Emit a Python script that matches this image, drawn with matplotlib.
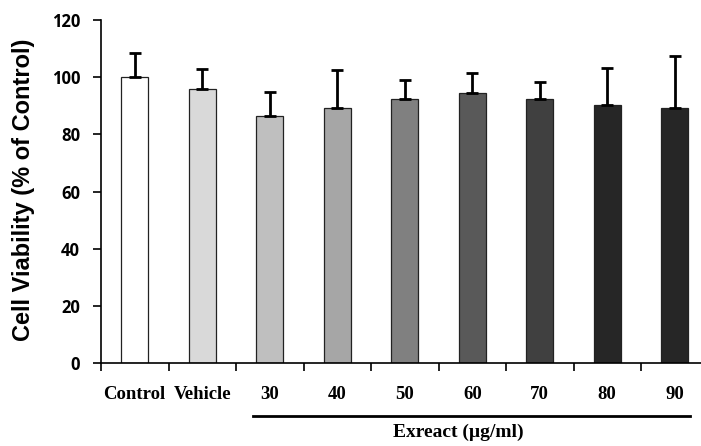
import matplotlib.pyplot as plt

categories = ["Control", "Vehicle", "30", "40", "50", "60", "70", "80", "90"]
viability = [100, 96, 86.4, 89.4, 92.5, 94.5, 92.5, 90.4, 89.4]
errors = [8.5, 7.0, 8.4, 13.0, 6.7, 7.0, 5.8, 12.8, 17.9]
colors = ["#ffffff", "#d9d9d9", "#bfbfbf", "#a6a6a6", "#808080",
          "#595959", "#404040", "#262626", "#262626"]

fig = plt.figure(figsize=(7.01, 4.46), dpi=100)
ax = fig.add_axes([101 / 701, 1 - 363.3 / 446, 600 / 701, 343.3 / 446])

x = range(len(categories))
ax.bar(x, viability, width=0.4, color=colors, edgecolor="#222222", linewidth=0.9, zorder=2)
ax.errorbar(x, viability, yerr=[[0] * len(errors), errors], fmt="none",
            ecolor="black", elinewidth=2, capsize=4, capthick=2, zorder=3)

ax.set_ylim(0, 120)
ax.set_xlim(-0.5, -0.5 + 600 / 67.5)
ax.set_yticks(range(0, 121, 20))
ax.tick_params(axis="y", direction="out", length=6, width=1.2, pad=9)
for lab in ax.get_yticklabels():
    lab.set_fontfamily("Open Sans")
    lab.set_fontweight("bold")
    lab.set_fontsize(12)

# ticks at category boundaries, labels at centers
ax.set_xticks([i - 0.5 for i in range(len(categories))])
ax.set_xticklabels([])
ax.tick_params(axis="x", direction="out", length=6, width=1.2)
for i, c in enumerate(categories):
    ax.text(i, -10.8, c, ha="center", va="center", fontsize=13.5,
            fontfamily="Liberation Serif", fontweight="bold")

for side in ["top", "right"]:
    ax.spines[side].set_visible(False)
for side in ["left", "bottom"]:
    ax.spines[side].set_linewidth(1.2)

ax.set_ylabel("Cell Viability (% of Control)", fontsize=17, fontweight="bold",
              fontfamily="Liberation Sans")
ax.yaxis.set_label_coords(-0.11, 0.505)

# bracket under extract concentrations
fig.add_artist(plt.Line2D([253 / 701, 690 / 701], [1 - 416 / 446] * 2,
                          color="black", linewidth=2))
fig.text(458 / 701, 1 - 432 / 446, "Exreact (µg/ml)", ha="center", va="center",
         fontsize=14, fontfamily="Liberation Serif", fontweight="bold")

fig.savefig("out.png", dpi=100)
